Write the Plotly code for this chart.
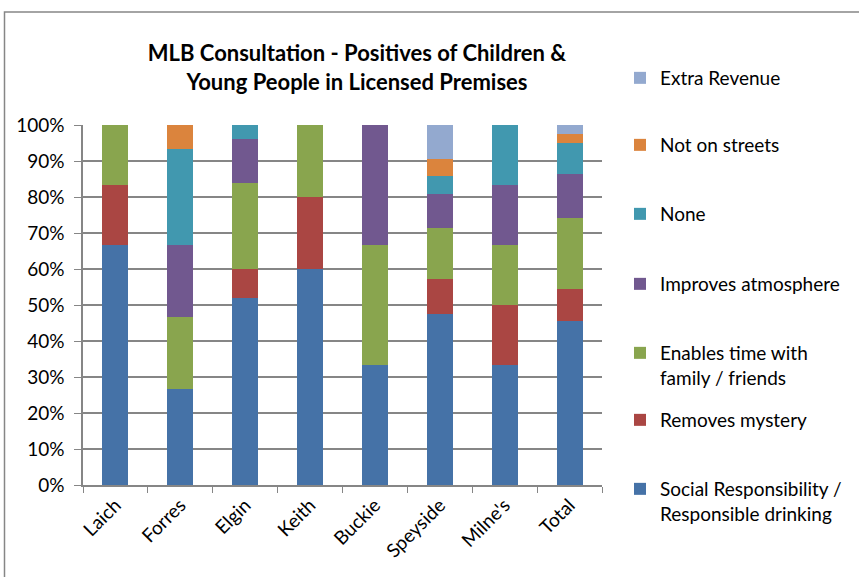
import plotly.graph_objects as go

# Number of positive responses per premises, by category
premises = ["Laich", "Forres", "Elgin", "Keith", "Buckie", "Speyside", "Milne's", "Total"]

social_responsibility = [4, 4, 13, 3, 1, 10, 2, 37]
removes_mystery = [1, 0, 2, 1, 0, 2, 1, 7]
enables_time = [1, 3, 6, 1, 1, 3, 1, 16]
improves_atmosphere = [0, 3, 3, 0, 1, 2, 1, 10]
none_response = [0, 4, 1, 0, 0, 1, 1, 7]
not_on_streets = [0, 1, 0, 0, 0, 1, 0, 2]
extra_revenue = [0, 0, 0, 0, 0, 2, 0, 2]

series = [
    ("Social Responsibility /<br>Responsible drinking", social_responsibility, "#4572A7"),
    ("Removes mystery", removes_mystery, "#AA4643"),
    ("Enables time with<br>family / friends", enables_time, "#89A54E"),
    ("Improves atmosphere", improves_atmosphere, "#71588F"),
    ("None", none_response, "#4198AF"),
    ("Not on streets", not_on_streets, "#DB843D"),
    ("Extra Revenue", extra_revenue, "#93A9CF"),
]

FONT = "Lato"
W, H = 859, 577
L, R, T, B = 83, 257, 125, 92
plot_w = W - L - R
plot_h = H - T - B

# first-line centre (px from top) of each legend entry, bottom entry first
legend_rows = [489, 420, 353, 284, 214, 145, 78]

fig = go.Figure()
layout_legends = {}
for i, (name, vals, color) in enumerate(series):
    key = "legend" if i == 0 else f"legend{i + 1}"
    fig.add_trace(go.Bar(
        name=name, x=premises, y=vals,
        marker=dict(color=color, line=dict(width=0)),
        legend=key, showlegend=True,
    ))
    top_px = legend_rows[i] - 19
    layout_legends[key] = dict(
        x=(620 - L) / plot_w, xanchor="left",
        y=(H - B - top_px) / plot_h, yanchor="top",
        bgcolor="rgba(0,0,0,0)", valign="top",
        font=dict(family=FONT, size=19, color="#000000"),
        itemclick=False, itemdoubleclick=False,
    )

# outer chart border
fig.add_shape(
    type="rect", xref="paper", yref="paper",
    x0=(4.5 - L) / plot_w, x1=(875 - L) / plot_w,
    y0=(H - B - 600) / plot_h, y1=(H - B - 12) / plot_h,
    line=dict(color="#868686", width=1.5), fillcolor="rgba(0,0,0,0)",
    layer="below",
)

fig.update_layout(
    width=W, height=H,
    margin=dict(l=L, r=R, t=T, b=B),
    showlegend=True,
    barmode="stack", barnorm="percent", bargap=0.6,
    paper_bgcolor="white", plot_bgcolor="white",
    title=dict(
        text="<b>MLB Consultation - Positives of Children &<br>Young People in Licensed Premises</b>",
        x=357 / W, xanchor="center", y=1 - 61 / H, yanchor="middle",
        font=dict(family=FONT, size=22, color="#000000"),
    ),
    xaxis=dict(
        showline=True, linecolor="#868686", linewidth=1.5,
        ticks="outside", tickson="boundaries", ticklen=6, tickcolor="#868686",
        tickangle=-45, showgrid=False,
        tickfont=dict(family=FONT, size=19, color="#000000"),
    ),
    yaxis=dict(
        range=[0, 100], dtick=10, ticksuffix="%",
        showline=True, linecolor="#868686", linewidth=1.5,
        ticks="outside", ticklen=7, tickcolor="#868686",
        ticklabelstandoff=6,
        showgrid=True, gridcolor="#868686", gridwidth=1.5,
        tickfont=dict(family=FONT, size=19, color="#000000"),
    ),
    **layout_legends,
)

fig.write_html("out.html")
